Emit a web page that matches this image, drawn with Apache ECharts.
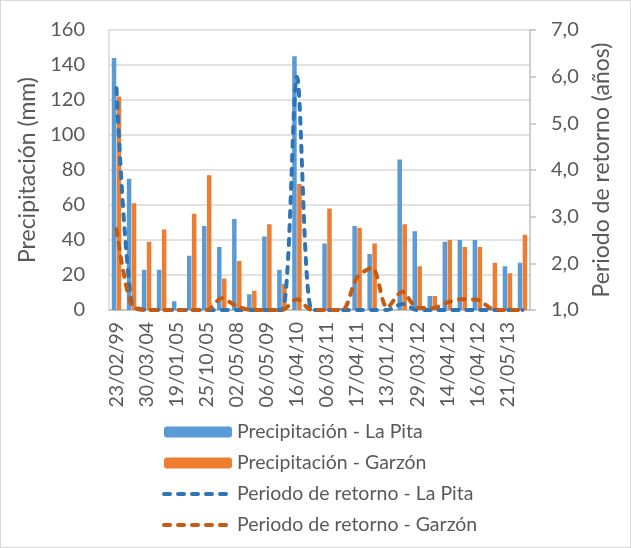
<!DOCTYPE html>
<html>
<head>
<meta charset="utf-8">
<script src="https://cdn.jsdelivr.net/npm/echarts@6/dist/echarts.min.js"></script>
<style>
  html, body { margin: 0; padding: 0; background: #fff; }
  #chart { width: 629px; height: 546px; border: 1px solid #d9d9d9; }
</style>
</head>
<body>
<div id="chart"></div>
<script>
// only every other date is printed on the axis, the rest are unknown
const fechas = ['23/02/99', '', '30/03/04', '', '19/01/05', '', '25/10/05', '', '02/05/08', '', '06/05/09', '',
  '16/04/10', '', '06/03/11', '', '17/04/11', '', '13/01/12', '', '29/03/12', '', '14/04/12', '', '16/04/12', '',
  '21/05/13', '']
const precLaPita = [144, 75, 23, 23, 5, 31, 48, 36, 52, 9, 42, 23, 145, 3, 38, 1, 48, 32, 0, 86, 45, 8, 39, 40, 40, 2, 25, 27]
const precGarzon = [122, 61, 39, 46, 0, 55, 77, 18, 28, 11, 49, 15, 72, 0, 58, 0, 47, 38, 0, 49, 25, 8, 40, 36, 36, 27, 21, 43]
const retLaPita = [5.75, 1.15, 1.0, 1.0, 1.0, 1.0, 1.0, 1.0, 1.0, 1.0, 1.0, 1.0, 6.0, 1.0, 1.0, 1.0, 1.0, 1.0, 1.0, 1.13, 1.0, 1.0, 1.0, 1.0, 1.0, 1.0, 1.0, 1.0]
const retGarzon = [2.73, 1.1, 1.0, 1.0, 1.0, 1.0, 1.0, 1.25, 1.08, 1.0, 1.0, 1.0, 1.23, 1.0, 1.0, 1.0, 1.7, 1.9, 1.05, 1.39, 1.05, 1.04, 1.16, 1.23, 1.22, 1.02, 1.0, 1.0]

const colors = ['#5B9BD5', '#ED7D31', '#2E75B6', '#C55A11']
const font = 'Lato'
const gris = '#595959'
const dash = { width: 4, type: [6, 8], cap: 'round' }

const myChart = echarts.init(document.getElementById('chart'))
myChart.setOption({
  animation: false,
  color: colors,
  textStyle: { fontFamily: font },
  grid: { left: 108, right: 100, top: 29, bottom: 237 },
  legend: {
    orient: 'vertical',
    left: 156,
    top: 416,
    itemWidth: 68,
    itemHeight: 11,
    itemGap: 11,
    lineStyle: { width: 4, type: [6, 8], cap: 'round' },
    textStyle: { fontFamily: font, fontSize: 19.5, color: gris },
    data: [
      'Precipitación - La Pita',
      'Precipitación - Garzón',
      { name: 'Periodo de retorno - La Pita', itemStyle: { opacity: 0 } },
      { name: 'Periodo de retorno - Garzón', itemStyle: { opacity: 0 } },
    ],
  },
  xAxis: {
    type: 'category',
    data: fechas,
    axisLine: { lineStyle: { color: '#BFBFBF', width: 1.5 } },
    axisTick: { show: false },
    axisLabel: { rotate: 90, interval: 0, margin: 12, fontSize: 19.5, color: gris, fontFamily: font },
  },
  yAxis: [
    {
      type: 'value',
      min: 0,
      max: 160,
      interval: 20,
      name: 'Precipitación (mm)',
      nameLocation: 'middle',
      nameGap: 67,
      nameTextStyle: { fontSize: 23, color: gris, fontFamily: font },
      axisLine: { show: true, lineStyle: { color: '#D9D9D9', width: 1.5 } },
      axisTick: { show: false },
      axisLabel: { fontSize: 20, color: gris, margin: 24, fontFamily: font },
      splitLine: { lineStyle: { color: '#D9D9D9', width: 1.5 } },
    },
    {
      type: 'value',
      min: 1,
      max: 7,
      interval: 1,
      name: 'Periodo de retorno (años)',
      nameLocation: 'middle',
      nameGap: 60,
      nameTextStyle: { fontSize: 23, color: gris, fontFamily: font },
      axisLine: { show: true, lineStyle: { color: '#BFBFBF', width: 1.5 } },
      axisTick: { show: true, length: 6, lineStyle: { color: '#BFBFBF', width: 1.5 } },
      axisLabel: { fontSize: 20, color: gris, margin: 21, fontFamily: font, formatter: v => v.toFixed(1).replace('.', ',') },
      splitLine: { show: false },
    },
  ],
  series: [
    { name: 'Precipitación - La Pita', type: 'bar', data: precLaPita, barWidth: 4.5, barGap: '10%' },
    { name: 'Precipitación - Garzón', type: 'bar', data: precGarzon, barWidth: 4.5, barGap: '10%' },
    {
      name: 'Periodo de retorno - La Pita', type: 'line', yAxisIndex: 1, data: retLaPita, smooth: 0.3,
      symbol: 'none', lineStyle: { ...dash, color: colors[2] },
    },
    {
      name: 'Periodo de retorno - Garzón', type: 'line', yAxisIndex: 1, data: retGarzon, smooth: 0.3,
      symbol: 'none', lineStyle: { ...dash, color: colors[3] },
    },
  ],
})
</script>
</body>
</html>
